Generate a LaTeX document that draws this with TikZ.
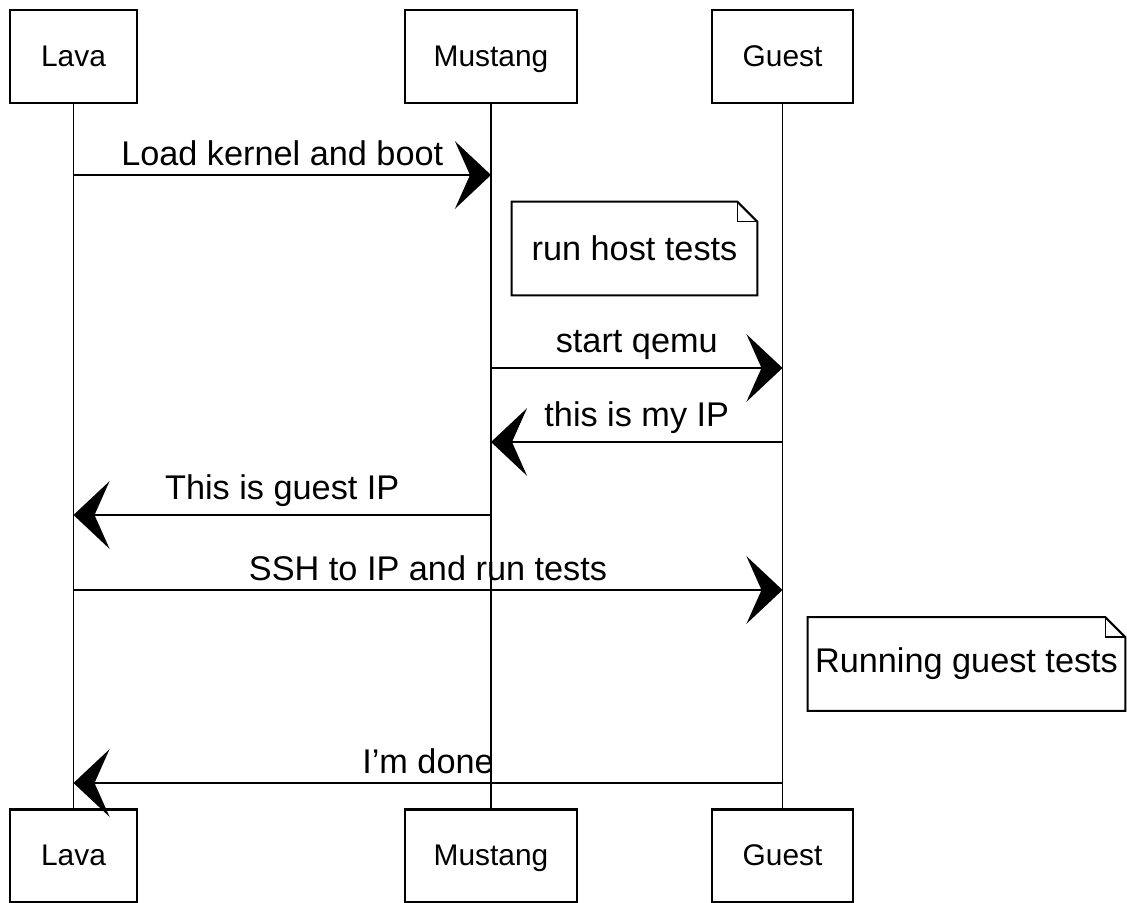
\documentclass[tikz,border=0pt]{standalone}
\usepackage{fontspec}
\setmainfont{Liberation Sans}
\usetikzlibrary{arrows.meta}

\begin{document}
\begin{tikzpicture}[x=0.02cm, y=-0.02cm,
        actor/.style={draw, line width=1.2pt, minimum height=1.86cm, text height=2.6ex, text depth=0.45ex,
        	font=\fontsize{17}{20}\selectfont},
        notetext/.style={minimum height=1.86cm, font=\fontsize{19.5}{23}\selectfont},
        life/.style={line width=0.8pt},
        msg/.style={line width=1.4pt, -{Stealth[length=0.72cm, width=1.35cm, inset=0.3cm]}},
        lbl/.style={above=1pt, font=\fontsize{19.5}{23}\selectfont}]
        	\useasboundingbox (0,0) rectangle (1127,903);
        	% participants, top and bottom
        	\node[actor, minimum width=2.54cm] (lavaTop) at (73.5,56.5) {Lava};
        	\node[actor, minimum width=3.44cm] (mustTop) at (491,56.5) {Mustang};
        	\node[actor, minimum width=2.82cm] (guestTop) at (782.5,56.5) {Guest};
        	\node[actor, minimum width=2.54cm] (lavaBot) at (73.5,856) {Lava};
        	\node[actor, minimum width=3.44cm] (mustBot) at (491,856) {Mustang};
        	\node[actor, minimum width=2.82cm] (guestBot) at (782.5,856) {Guest};
        	\foreach \n in {lava,must,guest}
        		\draw[life] (\n Top) -- (\n Bot);
        	% messages
        	\foreach \y/\a/\b/\t in {175/lava/must/Load kernel and boot,
        			368/must/guest/start qemu,
        			442/guest/must/this is my IP,
        			515/must/lava/This is guest IP,
        			590/lava/guest/SSH to IP and run tests,
        			783/guest/lava/I'm done}
        		\draw[msg] (\a Top |- 0,\y) -- (\b Top |- 0,\y) node[midway, lbl] {\t};
        	% notes
        	\node[notetext, minimum width=4.9cm] (hostNote) at (634.5,248.5) {run host tests};
        	\node[notetext, minimum width=6.34cm] (guestNote) at (966.5,664) {Running guest tests};
        	\foreach \n in {hostNote,guestNote} {
        		\draw[line width=1.2pt] (\n.north west) -- ([xshift=-0.4cm]\n.north east)
        			-- ([yshift=-0.4cm]\n.north east) -- (\n.south east) -- (\n.south west) -- cycle;
        		\draw[line width=0.8pt] ([xshift=-0.4cm]\n.north east) |- ([yshift=-0.4cm]\n.north east);
        	}
        \end{tikzpicture}
\end{document}
